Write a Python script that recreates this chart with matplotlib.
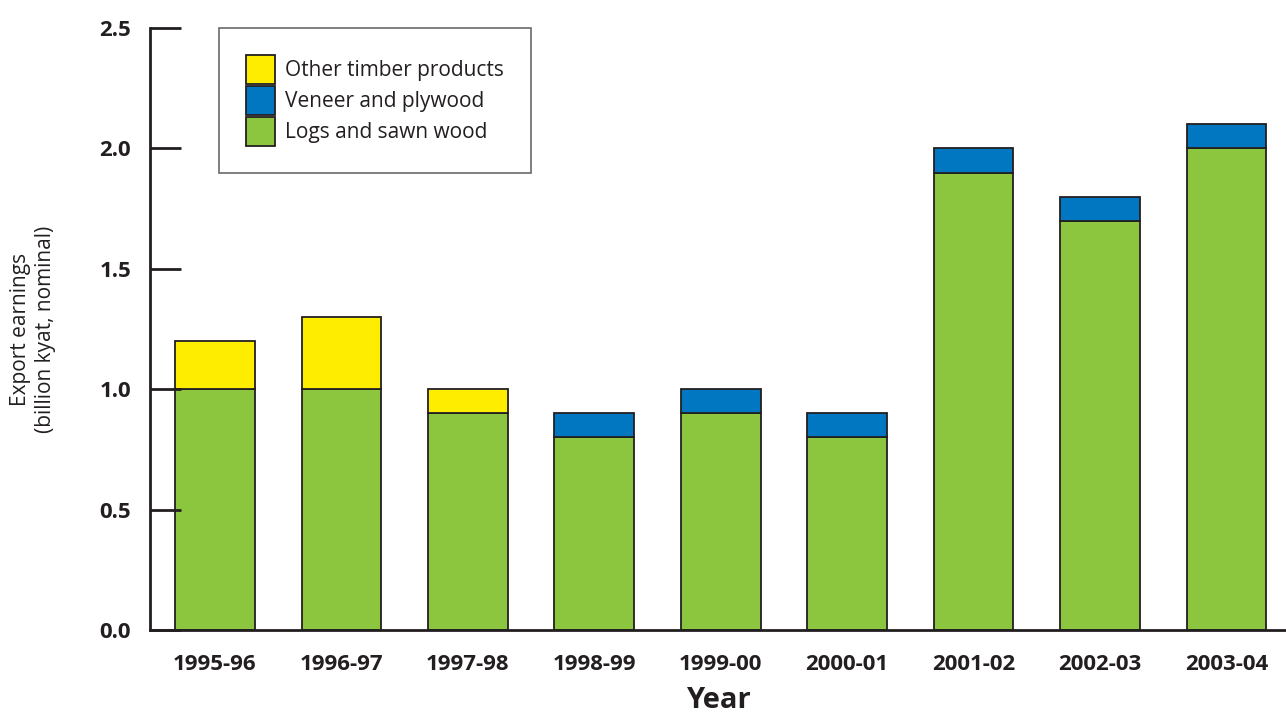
import matplotlib.pyplot as plt
from matplotlib.patches import Patch
import numpy as np

plt.rcParams['font.family'] = ['Open Sans', 'DejaVu Sans']

years = ['1995-96', '1996-97', '1997-98', '1998-99', '1999-00',
         '2000-01', '2001-02', '2002-03', '2003-04']
logs = [1.0, 1.0, 0.9, 0.8, 0.9, 0.8, 1.9, 1.7, 2.0]
veneer = [0, 0, 0, 0.1, 0.1, 0.1, 0.1, 0.1, 0.1]
other = [0.2, 0.3, 0.1, 0, 0, 0, 0, 0, 0]

green = '#8cc63f'
blue = '#0077c0'
yellow = '#ffed00'
edge = '#231f20'

fig = plt.figure(figsize=(12.86, 7.2), dpi=100)
ax = fig.add_axes([0.117, 0.125, 0.883, 0.836])

x = np.arange(len(years))
w = 0.63
logs_a = np.array(logs)
veneer_a = np.array(veneer)
other_a = np.array(other)

b1 = ax.bar(x, logs_a, w, color=green, edgecolor=edge, linewidth=1.3)
b2 = ax.bar(x, veneer_a, w, bottom=logs_a, color=blue, edgecolor=edge, linewidth=1.3)
b3 = ax.bar(x, other_a, w, bottom=logs_a + veneer_a, color=yellow, edgecolor=edge, linewidth=1.3)
# hide empty segments
for bars, vals in ((b2, veneer), (b3, other)):
    for b, v in zip(bars, vals):
        if v == 0:
            b.set_visible(False)

ax.set_xlim(-0.51, 8.47)
ax.set_ylim(0, 2.5)
ax.set_yticks([0, 0.5, 1.0, 1.5, 2.0, 2.5])
ax.set_yticklabels(['0.0', '0.5', '1.0', '1.5', '2.0', '2.5'])
ax.set_xticks(x)
ax.set_xticklabels(years)

for s in ['top', 'right']:
    ax.spines[s].set_visible(False)
for s in ['left', 'bottom']:
    ax.spines[s].set_linewidth(2)
    ax.spines[s].set_color(edge)

ax.tick_params(axis='y', direction='in', length=22, width=2, color=edge,
               labelsize=16, pad=14, labelcolor=edge)
ax.tick_params(axis='x', length=0, labelsize=16, pad=17, labelcolor=edge)
for lab in ax.get_xticklabels() + ax.get_yticklabels():
    lab.set_fontweight('bold')

ax.set_xlabel('Year', fontsize=21, fontweight='bold', color=edge, labelpad=8)
ax.set_ylabel('Export earnings\n(billion kyat, nominal)', fontsize=15,
              color=edge, linespacing=1.25)
ax.yaxis.set_label_coords(-0.083, 0.5)

handles = [Patch(facecolor=yellow, edgecolor=edge, linewidth=1.3),
           Patch(facecolor=blue, edgecolor=edge, linewidth=1.3),
           Patch(facecolor=green, edgecolor=edge, linewidth=1.3)]
leg = ax.legend(handles,
                ['Other timber products', 'Veneer and plywood', 'Logs and sawn wood'],
                loc='upper left', bbox_to_anchor=(0.06, 1.0), fontsize=15,
                frameon=True, fancybox=False, edgecolor='#444444',
                handlelength=1.4, handleheight=1.75, handletextpad=0.5,
                labelspacing=0.1, borderpad=1.3, borderaxespad=0)
leg.get_frame().set_linewidth(1.2)
for t in leg.get_texts():
    t.set_color(edge)

fig.savefig('out.png', dpi=100)
